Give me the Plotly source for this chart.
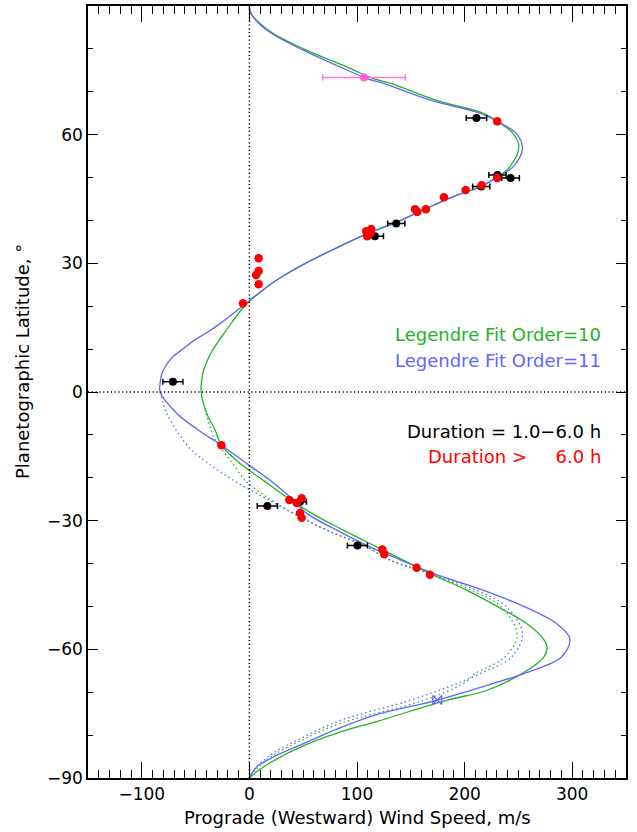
import plotly.graph_objects as go

# ---------------- data ----------------
# Legendre fit order 10 (solid green): latitude, wind speed
fit10_lat = [90, 88.7, 87.5, 86, 83.6, 79.7, 75.8, 73, 72, 68, 65, 63, 60.3, 57.2, 52.5, 50.2,
             47.8, 45.5, 42.4, 39.5, 37, 33, 30, 27, 25, 23, 21.3, 19, 16, 14, 12.1, 10, 8.2, 4.3,
             0, -5, -8.9, -12.4, -16.7, -20.6, -24.5, -28.3, -32.2, -36.1, -42.3, -46.2, -50.1,
             -54.0, -57.5, -59.5, -61.8, -65.7, -69.6, -71.9, -76.6, -79.3, -82.5, -86.0, -88.5, -90]
fit10_u = [0, 0.6, 3.7, 9.5, 22.3, 53, 90.4, 116, 130.6, 174, 217, 231, 245, 250.4, 242, 231,
           214, 189, 161, 136, 110, 76, 52, 31, 19, 9, 0.5, -8, -17, -22.5, -28, -33.5, -37.5, -43.3,
           -44.8, -39.6, -31.8, -26, -8.6, 13, 34.7, 58, 87.3, 118.3, 167.8, 201.8, 231,
           257.6, 273, 276.7, 273.6, 253, 220.4, 183, 121.4, 84, 50, 22.3, 7, 0]

# Legendre fit order 11 (solid blue)
fit11_lat = [90, 88.7, 87.5, 86, 83.6, 79.7, 75.8, 73, 72, 68, 65, 63, 60.3, 56.8, 52.5, 50.2,
             47.8, 45.5, 42.4, 39.5, 37, 33, 30, 27, 25, 23, 21.3, 19, 16, 14, 12.1, 10, 8.2, 6,
             4.3, 2, 0, -5, -8.9, -12.4, -16.7, -20.6, -24.5, -28.3, -32.2, -36.1, -38.1, -42.3,
             -46.2, -50.1, -54.0, -57.5, -61.8, -65.7, -69.6, -71.9, -75.0, -78.3, -82.0, -85.1,
             -87.4, -90]
fit11_u = [0, 0.6, 3.5, 8.5, 20.7, 50, 84.2, 110, 124, 169, 214, 231, 248, 253.8, 245, 231,
           214, 189, 161, 136, 110, 76, 52, 31, 19, 8.5, 0, -11.5, -27, -38.5, -51, -62, -71, -78,
           -81.3, -83, -83, -67.4, -47.3, -26, -2.4, 19.2, 37.8, 53.3, 81.2, 112, 130.6, 170.8,
           217, 256, 285.4, 297.8, 290, 254.4, 205, 174.3, 121.4, 84.2, 50, 22.3,
           6.8, 0]

# Southern alternative fits (dotted)
alt10_lat = [-4, -8.9, -11.2, -14.4, -16.7, -20.6, -24.5, -28.3, -32.2, -36.1, -39.2, -42.3,
             -46.2, -50.1, -56.7, -61.8, -65.7, -68, -71.9, -77.3, -81, -84.7, -88, -90]
alt10_u = [-41.5, -35.5, -31.8, -22.6, -15.4, -4, 16.2, 40.9, 71.9, 109, 130.6, 166,
           206, 234, 248.8, 237.4, 209.6, 198.7, 161.6, 84.2, 50, 22.3, 6, 0]

alt11_lat = [0, -5, -12.8, -16.7, -20.6, -24.5, -28.3, -32.2, -36.1, -39.2, -42.3, -46.2,
             -50.1, -56.3, -61.8, -65.7, -68, -71.9, -76.6, -80.5, -84.2, -87.8, -90]
alt11_u = [-83, -76.7, -56.6, -38, -14.9, 13, 40.9, 71.9, 109, 130.6, 169.3, 211,
           239, 253.8, 243.6, 214, 192.6, 149.2, 84.2, 50, 22.3, 5, 0]

# Duration 1.0-6.0 h (black, with errors)
short_u = [211, 242.7, 230.5, 215.5, 136.5, 116.6, -71.1, 16.7, 47, 100.4]
short_lat = [63.9, 49.9, 50.6, 47.9, 39.3, 36.3, 2.4, -26.6, -25.6, -35.8]
short_err = [9.5, 8.2, 8, 8, 8, 8, 9.3, 9.4, 6, 9.3]

# Duration > 6.0 h (red)
long_u = [230.3, 230.3, 215.8, 201, 180.8, 164, 153.9, 156, 108.6, 112.3, 109.5, 113.2,
          8.6, 8.6, 6.2, 8.6, -6, -26, 37.1, 44, 48.6, 47, 48.6, 123.5, 125.3, 155.4, 167.8]
long_lat = [63.1, 49.9, 48.2, 47.1, 45.4, 42.6, 42.6, 42.0, 37.5, 37.0, 36.3, 38.0,
            31.2, 28.2, 27.3, 25.1, 20.7, -12.4, -25.2, -25.9, -24.8, -28.2, -29.3,
            -36.7, -37.8, -41.0, -42.6]

# other measurements
pink_u, pink_lat, pink_err = [106.5], [73.3], [38.3]
bow_u, bow_lat = [174.6], [-71.8]

GREEN = "#22b422"
BLUE = "#6464ff"
FONT = "DejaVu Sans"

fig = go.Figure()

def curve(x, y, color, dotted):
    return go.Scatter(x=x, y=y, mode="lines", hoverinfo="skip",
                      line=dict(color=color, width=1.3, shape="spline", smoothing=1.0,
                                dash="1.5px,3px" if dotted else "solid"))

fig.add_trace(curve(alt10_u, alt10_lat, GREEN, True))
fig.add_trace(curve(alt11_u, alt11_lat, BLUE, True))
fig.add_trace(curve(fit10_u, fit10_lat, GREEN, False))
fig.add_trace(curve(fit11_u, fit11_lat, BLUE, False))

fig.add_trace(go.Scatter(x=pink_u, y=pink_lat, mode="markers",
                         marker=dict(color="#ff5fcf", size=8),
                         error_x=dict(type="data", array=pink_err, color="#ff7ad6",
                                      thickness=1.5, width=3)))
fig.add_trace(go.Scatter(x=short_u, y=short_lat, mode="markers",
                         marker=dict(color="black", size=8),
                         error_x=dict(type="data", array=short_err, color="black",
                                      thickness=1.5, width=3)))
fig.add_trace(go.Scatter(x=long_u, y=long_lat, mode="markers",
                         marker=dict(color="#ff0000", size=8.5)))
fig.add_trace(go.Scatter(x=bow_u, y=bow_lat, mode="markers",
                         marker=dict(color=BLUE, size=9, symbol="bowtie-open",
                                     line=dict(width=1.3, color=BLUE))))

# dotted zero lines
fig.add_shape(type="line", x0=0, x1=0, y0=-90, y1=90, xref="x", yref="y",
              line=dict(color="black", width=1.5, dash="1.2px,2.6px"))
fig.add_shape(type="line", x0=-150, x1=350, y0=0, y1=0, xref="x", yref="y",
              line=dict(color="black", width=1.5, dash="1.2px,2.6px"))

ann_font = dict(family=FONT, size=18)
for txt, yy, col in [("Legendre Fit Order=10", 13.5, GREEN),
                     ("Legendre Fit Order=11", 7.4, BLUE),
                     ("Duration = 1.0\u22126.0 h", -9.1, "black"),
                     ("Duration >\u00a0\u00a0\u00a0\u00a0 6.0 h", -15.0, "#ff0000")]:
    fig.add_annotation(x=328.5, y=yy, xref="x", yref="y", text=txt, showarrow=False,
                       xanchor="right", yanchor="middle", font=dict(ann_font, color=col))

# axis titles
fig.add_annotation(x=0.5, y=0, xref="paper", yref="paper", yshift=-39,
                   text="Prograde (Westward) Wind Speed, m/s", showarrow=False,
                   xanchor="center", yanchor="middle", font=dict(family=FONT, size=18))
fig.add_annotation(x=0, y=0.5, xref="paper", yref="paper", xshift=-66, yshift=30,
                   text="Planetographic Latitude, \u00b0", showarrow=False, textangle=-90,
                   xanchor="center", yanchor="middle", font=dict(family=FONT, size=18))

fig.update_layout(
    width=637, height=832,
    margin=dict(l=88, r=11, t=6, b=54),
    paper_bgcolor="white", plot_bgcolor="white",
    showlegend=False,
    font=dict(family=FONT, size=17, color="black"),
)
fig.update_xaxes(range=[-150, 350], tickvals=[-100, 0, 100, 200, 300], automargin=False,
                 showgrid=False, zeroline=False, showline=True, linecolor="black", linewidth=1.5,
                 mirror="ticks", ticks="inside", ticklen=16, tickwidth=1.3, tickcolor="black",
                 minor=dict(dtick=10, tick0=0, ticks="inside", ticklen=8, tickwidth=1.3,
                            tickcolor="black", showgrid=False),
                 tickfont=dict(family=FONT, size=17))
fig.update_yaxes(range=[-90, 90], tickvals=[-90, -60, -30, 0, 30, 60, 90], automargin=False,
                 showgrid=False, zeroline=False, showline=True, linecolor="black", linewidth=1.5,
                 mirror="ticks", ticks="inside", ticklen=10, tickwidth=1.3, tickcolor="black",
                 minor=dict(dtick=10, tick0=0, ticks="inside", ticklen=5, tickwidth=1.3,
                            tickcolor="black", showgrid=False),
                 tickfont=dict(family=FONT, size=17))

fig.write_html("out.html", config={"displayModeBar": False},
               post_script="document.body.style.margin='0';document.body.style.overflow='hidden';")
